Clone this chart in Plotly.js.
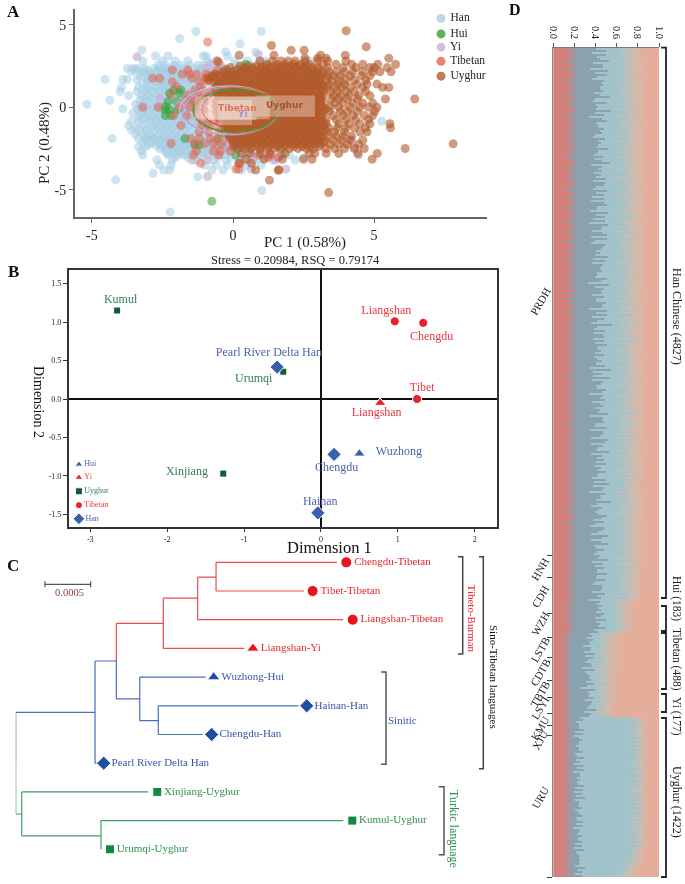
<!DOCTYPE html>
<html>
<head>
<meta charset="utf-8">
<script src="https://cdn.plot.ly/plotly-3.0.1.min.js"></script>
<style>body{margin:0;background:#fff}#plotArea{width:685px;height:884px;filter:blur(.45px)}</style>
</head>
<body>
<div id="plotArea"></div>
<script>
var serif = "Liberation Serif";

// Panel A: PCA points, each row is [PC2, [PC1 values]]
var hanRows = [
  [4.59,[-1.32,1.0]], [4.16,[-1.89]], [3.84,[.25]], [3.47,[-3.23]], [3.35,[-.26,.8]], [3.1,[-2.75,-2.3,-1.05,-.95,-.2]],
  [2.8,[-3.2,-2.5,-2.05,-1.6,-.9,-.6,.05,.5,.95,1.15,2.7]],
  [2.55,[-2.65,-2.4,-2.1,-1.85,-1.55,-1.25,-1.05,-.8,-.45,.1,.35,.65]],
  [2.35,[-3.75,-3.55,-3.4,-3.15,-2.8,-2.6,-2.35,-2.15,-1.9,-1.7,-1.35,-1.1,-.85,-.55,-.3]],
  [2.15,[-3.6,-3.25,-3.0,-2.75,-2.5,-2.3,-2.05,-1.8,-1.55,-1.25,-.95,-.7]],
  [1.9,[-3.3,-3.05,-2.8,-2.55,-2.3,-2.1,-1.85,-1.6,-1.3,-1.05,-.75]],
  [1.68,[-4.54,-3.9,-3.75,-3.4,-3.0,-2.7,-2.5,-2.25,-2.0,-1.75,-1.5,-1.15,-.9]],
  [1.45,[-3.2,-2.9,-2.6,-2.4,-2.15,-1.9,-1.7,-1.45,-1.2]],
  [1.2,[-3.95,-3.35,-3.05,-2.75,-2.5,-2.3,-2.05,-1.8,-1.55,-1.3]],
  [.95,[-4.0,-3.4,-3.1,-2.85,-2.6,-2.35,-2.1,-1.85,-1.6]],
  [.7,[-3.7,-3.25,-3.0,-2.7,-2.45,-2.2,-1.95,-1.7,-1.45]],
  [.42,[-4.36,-3.3,-3.05,-2.8,-2.55,-2.3,-2.05,-1.8,-1.5]],
  [.18,[-5.18,-3.45,-3.2,-2.9,-2.65,-2.4,-2.15,-1.9,-1.65,-1.4]],
  [-.1,[-3.9,-3.4,-3.15,-2.85,-2.6,-2.35,-2.1,-1.85,-1.55]],
  [-.35,[-3.55,-3.3,-3.05,-2.75,-2.5,-2.25,-2.0,-1.75,-1.5]],
  [-.6,[-3.35,-3.1,-2.85,-2.6,-2.35,-2.1,-1.85,-1.6,-1.35]],
  [-.85,[-3.6,-3.35,-2.95,-2.7,-2.45,-2.2,-1.95,-1.7,-1.45,5.27]],
  [-1.1,[-3.7,-3.2,-2.8,-2.55,-2.3,-2.05,-1.8,-1.55,-1.25]],
  [-1.4,[-3.6,-3.35,-3.05,-2.75,-2.5,-2.25,-2.0,-1.7,-1.45,-1.15]],
  [-1.65,[-3.45,-3.2,-2.95,-2.6,-2.35,-2.1,-1.85,-1.6,-1.3,-1.0]],
  [-1.9,[-4.28,-3.35,-3.05,-2.8,-2.5,-2.25,-2.0,-1.75,-1.45,-1.2,-.9]],
  [-2.15,[-3.2,-2.9,-2.65,-2.4,-2.15,-1.9,-1.6,-1.35,-1.05,-.75,-.45]],
  [-2.4,[-3.35,-3.1,-2.5,-2.3,-2.05,-1.8,-1.5,-1.25,-.95,-.65,-.35,-.1]],
  [-2.65,[-3.25,-2.4,-2.15,-1.9,-1.65,-1.4,-1.1,-.85,-.5,-.2,.6,1.7]],
  [-2.9,[-3.2,-2.3,-2.0,-1.75,-1.5,-1.2,-.9,-.6,-.3,.1,1.3,2.0]],
  [-3.2,[-2.7,-2.15,-1.3,-.7,-.25,.2,.8,1.4,2.2]],
  [-3.5,[-2.6,-2.2,-1.0,-.6,-.2,.5,1.0]],
  [-3.8,[-2.45,-2.25,-.75,-.35,.3]],
  [-4.0,[-2.83]], [-4.22,[-1.25]], [-4.4,[-4.16]], [-5.05,[1.02]], [-6.34,[-2.23]],
  // denser fill between the rows above
  [2.25,[-3.45,-3.05,-2.65,-2.4,-2.2,-1.95,-1.6,-1.2,-.9,-.6,-.35,-.1,.2,.6]],
  [2.0,[-3.15,-2.9,-2.65,-2.4,-2.2,-1.95,-1.7,-1.45,-1.15,-.9,-.6]],
  [1.55,[-3.05,-2.75,-2.5,-2.3,-2.05,-1.8,-1.55,-1.3,-1.05,-.75]],
  [1.05,[-3.2,-2.95,-2.65,-2.45,-2.2,-1.95,-1.7,-1.45,-1.15]],
  [.55,[-3.15,-2.9,-2.6,-2.4,-2.15,-1.9,-1.65,-1.35,-1.1]],
  [.05,[-3.3,-3.05,-2.75,-2.5,-2.25,-2.0,-1.75,-1.5,-1.25]],
  [-.22,[-3.25,-3.0,-2.7,-2.45,-2.2,-1.95,-1.7,-1.4,-1.15]],
  [-.72,[-3.2,-2.95,-2.75,-2.5,-2.25,-2.0,-1.75,-1.5,-1.25]],
  [-1.25,[-3.45,-3.1,-2.9,-2.65,-2.4,-2.15,-1.9,-1.65,-1.35,-1.05]],
  [-1.78,[-3.1,-2.85,-2.7,-2.45,-2.2,-1.95,-1.7,-1.4,-1.1,-.8,-.55]],
  [-2.02,[-3.1,-2.75,-2.55,-2.3,-2.1,-1.8,-1.55,-1.3,-1.0,-.7,-.4,-.15]],
  [-2.28,[-3.0,-2.75,-2.55,-2.2,-1.95,-1.7,-1.45,-1.15,-.85,-.55,-.25,0]],
  [-2.52,[-2.6,-2.35,-2.1,-1.85,-1.6,-1.35,-1.05,-.8,-.55,-.25,0,.2]],
  [-2.78,[-2.35,-2.1,-1.85,-1.55,-1.3,-1.0,-.7,-.45,-.1,.25,.5,1.0]],
  [-3.05,[-2.05,-1.6,-1.05,-.55,-.1,.4,.65,1.1,1.6,2.5]]
];
var huiRows = [
  [2.6,[.45]], [1.9,[-.2,-.05]], [1.05,[-2.1,-1.85]], [.85,[-1.9,-2.25]], [.35,[-2.3,-2.0,-1.4]], [.05,[-1.35,-2.4]],
  [-.15,[-2.4,-2.25,-1.95]], [-.5,[-2.4,-2.2]], [-1.0,[-.9]], [-1.9,[-1.7,-.5]], [-2.3,[-1.2,-1.35,-.5,-.2]], [-2.9,[.1,1.7]], [-5.7,[-.75]]
];
var yiRows = [
  [3.05,[-3.4]], [3.2,[.9]], [2.6,[-.8]], [2.35,[-.95]], [1.8,[-1.1,-.8]], [.55,[-2.6,-.9]], [.1,[-1.9,-1.6]], [-.6,[-1.55,-1.7]],
  [-1.4,[-1.0,-.4]], [-1.95,[-.2,-.05,.1,4.2]], [-2.2,[-.35,-.1,.05,.25]], [-2.45,[-.55,-.15,4.3]], [-2.9,[.65,1.0,1.7,4.45]],
  [-3.2,[-1.45,-.9,.7,1.5]], [-3.75,[1.87,.65]], [-4.2,[-.9]],
  [.9,[-1.2,-.8,-.45]], [.4,[-1.3,-.95,-.6,-.2]], [-.1,[-1.35,-1.0,-.65,-.3]], [-.9,[-1.25,-.9,-.55,-.2]]
];
var tibetanRows = [
  [3.95,[-.9]], [2.7,[-.5]], [2.25,[-2.15,-1.6,-.55,.3]], [2.0,[-1.8,-1.55,-1.3,-.95,-.6]], [1.75,[-2.85,-2.6,-1.45,-1.0]],
  [1.55,[-2.15,-1.2,-.9]], [1.25,[-2.0,-1.15,-.6]], [.75,[-2.2,-1.6,-1.3]], [.45,[-1.7,-1.45]], [0,[-3.2,-2.65,-1.9,-1.55]],
  [-.5,[-2.1,-1.65]], [-1.1,[-1.85,-1.1,-.85,-.6]], [-1.9,[-1.5,-1.2,-.8,-.55]], [-2.2,[-2.2,-1.35,-1.0,-.7,-.4]],
  [-2.65,[-1.3,-.7,-.45,-.1]], [-2.9,[-1.4,-.5,.9,1.35]], [-3.05,[1.25,1.6]], [-3.4,[-1.15,.25]], [-3.75,[.1,.2]],
  [1.05,[-1.35,-1.05,-.75,-.45]], [.65,[-1.2,-.9,-.6,-.3]], [.25,[-1.3,-1.05,-.75,-.4]], [-.25,[-1.25,-.95,-.65,-.35]],
  [-.7,[-1.1,-.8,-.5]], [-1.5,[-1.2,-.85,-.5,-.2]]
];
var uyghurRows = [
  [4.63,[4.01]], [3.74,[1.36]], [3.66,[4.72]], [3.45,[2.52,2.06]], [3.15,[.22,1.45,3.98,3.1]], [2.97,[5.52,3.3,3.0,2.55]],
  [2.8,[-.55,.95,1.4,1.7,1.95,2.2,2.55,3.0,3.35,4.0]], [2.6,[5.13,5.76,1.2,1.55,1.85,2.15,2.4,2.7,3.2,3.65,4.2,4.6]],
  [2.4,[5.46,-.1,.4,.7,1.0,1.3,1.6,1.9,2.2,2.5,2.8,3.0,3.35,3.9,4.35,4.85,5.0]],
  [2.15,[5.6,-.35,0,.3,.55,.85,1.1,1.35,1.6,1.85,2.1,2.4,2.65,2.9,3.15,3.4,3.65,3.95,4.25,4.6,4.95,5.2]],
  [1.9,[-.75,-.5,-.2,.05,.3,.6,.85,1.1,1.35,1.6,1.85,2.1,2.35,2.6,2.85,3.05,3.35,3.55,3.8,4.15,4.55,4.85]],
  [1.65,[-.85,-.55,-.25,0,.25,.5,.75,1.0,1.25,1.5,1.75,2.0,2.25,2.5,2.75,3.0,3.3,3.5,3.75,4.0,4.3,4.7]],
  [1.4,[-.5,-.3,-.05,.2,.45,.7,.95,1.2,1.45,1.7,1.95,2.2,2.45,2.7,2.95,3.15,3.4,3.7,3.95,4.4,4.75,5.1]],
  [1.2,[-.4,-.15,.1,.35,.6,.85,1.1,1.35,1.6,1.85,2.1,2.35,2.6,2.85,3.1,3.35,3.6,3.85,4.15,4.6,5.3,5.52]],
  [.95,[-.3,-.05,.2,.45,.7,.95,1.2,1.45,1.7,1.95,2.2,2.45,2.7,2.95,3.2,3.45,3.7,4.0,4.3,4.7]],
  [.7,[-.25,0,.25,.5,.75,1.0,1.25,1.5,1.75,2.0,2.25,2.5,2.75,3.0,3.2,3.55,3.8,4.1,4.45,4.85]],
  [.5,[-.4,-.1,.15,.4,.65,.9,1.15,1.4,1.65,1.9,2.15,2.4,2.65,2.9,3.1,3.5,3.75,4.05,4.4,5.4,6.44]],
  [.25,[-.3,0,.25,.5,.75,1.0,1.25,1.5,1.75,2.0,2.25,2.5,2.75,3.0,3.25,3.6,3.9,4.25,4.6,4.95]],
  [0,[-.35,-.1,.15,.4,.65,.9,1.15,1.4,1.65,1.9,2.15,2.4,2.65,2.9,3.15,3.45,3.75,4.15,4.5,4.8,5.1]],
  [-.25,[-.3,-.05,.2,.45,.7,.95,1.2,1.45,1.7,1.95,2.2,2.45,2.7,2.95,3.2,3.4,3.8,4.05,4.4,5.02]],
  [-.5,[-.4,-.1,.15,.4,.65,.9,1.15,1.4,1.65,1.9,2.15,2.4,2.65,2.9,3.15,3.55,3.9,4.25,4.65,4.95]],
  [-.75,[-.25,0,.25,.5,.75,1.0,1.25,1.5,1.75,2.0,2.25,2.5,2.75,3.0,3.3,3.65,4.0,4.35,4.8]],
  [-1.0,[-.2,.05,.3,.55,.8,1.05,1.3,1.55,1.8,2.05,2.3,2.55,2.8,3.05,3.3,3.75,4.1,4.5,4.85,5.56]],
  [-1.25,[-.15,.1,.35,.6,.85,1.1,1.35,1.6,1.85,2.1,2.35,2.6,2.85,3.1,3.4,3.7,4.0,4.3,4.7,5.58]],
  [-1.5,[-.1,.15,.4,.65,.9,1.15,1.4,1.65,1.9,2.15,2.4,2.65,2.9,3.15,3.35,3.6,3.95,4.5,4.75]],
  [-1.75,[-.1,.15,.4,.65,.9,1.15,1.4,1.65,1.9,2.15,2.4,2.65,2.9,3.1,3.35,3.65,3.9,4.2]],
  [-2.0,[0,.25,.5,.75,1.0,1.25,1.5,1.75,2.0,2.25,2.5,2.75,3.0,3.25,3.55,3.85,4.15,4.6]],
  [-2.25,[.1,.35,.6,.85,1.1,1.35,1.6,1.85,2.1,2.35,2.6,2.85,3.1,3.45,3.75,4.05,4.45]],
  [-2.5,[.15,.4,.65,.95,1.2,1.45,1.7,2.0,2.3,2.6,2.85,3.3,3.6,3.95,4.3,4.65,6.1]],
  [-2.8,[.3,.6,.95,1.3,1.85,2.7,2.9,3.3,3.75,4.42,5.11]], [-3.15,[.45,1.1,1.75,2.5,2.8,4.93]], [-3.4,[.65,.2]],
  [-3.8,[.8,1.63,1.6]], [-4.42,[1.29]], [-5.17,[3.39]], [-2.22,[7.8]],
  // the solid core between the rows above
  [2.5,[.25,.55,.85,1.15,1.45,1.75,2.05,2.35,2.6]],
  [2.28,[-.25,.15,.45,.7,.95,1.2,1.5,1.75,2.0,2.25,2.55,2.8,3.05]],
  [2.02,[-.65,-.3,-.1,.2,.45,.72,.98,1.22,1.48,1.72,1.98,2.22,2.48,2.72,2.98,3.2]],
  [1.78,[-.9,-.68,-.4,-.12,.12,.38,.62,.88,1.12,1.38,1.62,1.88,2.12,2.38,2.62,2.88,3.12]],
  [1.52,[-.65,-.4,-.15,.08,.32,.58,.82,1.08,1.32,1.58,1.82,2.08,2.32,2.58,2.82,3.08]],
  [1.3,[-.55,-.28,-.02,.22,.48,.72,.98,1.22,1.48,1.72,1.98,2.22,2.48,2.72,2.98,3.22]],
  [1.08,[-.62,-.35,-.1,.15,.4,.65,.9,1.15,1.4,1.65,1.9,2.15,2.4,2.65,2.9,3.15]],
  [.82,[-.55,-.18,.08,.32,.58,.82,1.08,1.32,1.58,1.82,2.08,2.32,2.58,2.82,3.08]],
  [.6,[-.5,-.12,.12,.38,.62,.88,1.12,1.38,1.62,1.88,2.12,2.38,2.62,2.88,3.12]],
  [.38,[-.58,-.2,.1,.35,.6,.85,1.1,1.35,1.6,1.85,2.1,2.35,2.6,2.85,3.1]],
  [.12,[-.6,-.22,.1,.38,.62,.88,1.12,1.38,1.62,1.88,2.12,2.38,2.62,2.88,3.12]],
  [-.12,[-.55,-.22,.02,.28,.52,.78,1.02,1.28,1.52,1.78,2.02,2.28,2.52,2.78,3.02,3.28]],
  [-.38,[-.55,-.18,.08,.32,.58,.82,1.08,1.32,1.58,1.82,2.08,2.32,2.58,2.82,3.08]],
  [-.62,[-.5,-.12,.12,.38,.62,.88,1.12,1.38,1.62,1.88,2.12,2.38,2.62,2.88,3.12]],
  [-.88,[-.38,-.08,.18,.42,.68,.92,1.18,1.42,1.68,1.92,2.18,2.42,2.68,2.92,3.18]],
  [-1.12,[-.32,-.05,.2,.48,.72,.98,1.22,1.48,1.72,1.98,2.22,2.48,2.72,2.98,3.22]],
  [-1.38,[-.28,.02,.28,.52,.78,1.02,1.28,1.52,1.78,2.02,2.28,2.52,2.78,3.02,3.25]],
  [-1.62,[-.25,.02,.28,.52,.78,1.02,1.28,1.52,1.78,2.02,2.28,2.52,2.78,3.02]],
  [-1.88,[-.12,.12,.38,.62,.88,1.12,1.38,1.62,1.88,2.12,2.38,2.62,2.88,3.12]],
  [-2.12,[0,.22,.48,.72,.98,1.22,1.48,1.72,1.98,2.22,2.48,2.72,2.98,3.22]],
  [-2.38,[.02,.28,.52,.78,1.02,1.28,1.58,1.85,2.15,2.45,2.72,3.05]]
];
var pcaLegend = ["Han", "Hui", "Yi", "Tibetan", "Uyghur"];
var pcaColors = ["#a6cee3", "#33a02c", "#cab2d6", "#e0654f", "#b15928"];
var pcaOpacity = [.55, .55, .7, .55, .6];

// Panel B: MDS
var mdsNames = ["Kumul", "Urumqi", "Xinjiang", "Liangshan", "Chengdu", "Tibet", "Liangshan", "Wuzhong", "Pearl River Delta Han", "Chengdu", "Hainan"];
var mdsX = [-2.65, -.49, -1.27, .96, 1.33, 1.25, .77, .5, -.57, .17, -.04];
var mdsY = [1.15, .355, -.97, 1.01, .99, 0, -.05, -.71, .415, -.72, -1.48];
var mdsLabelX = [-2.605, -.875, -1.743, .85, 1.439, 1.317, .724, 1.014, -.676, .204, -.009];
var mdsLabelY = [1.293, .256, -.949, 1.144, .81, .147, -.178, -.689, .598, -.901, -1.34];
var mdsSymbols = ["square", "square", "square", "circle", "circle", "circle", "triangle-up", "triangle-up", "diamond", "diamond", "diamond"];
var mdsSizes = [7, 7, 7, 9, 9, 9, 10, 10, 11, 11, 11];
var mdsColors = ["#0f5c33", "#0f5c33", "#0f5c33", "#e8202a", "#e8202a", "#e8202a", "#e8202a", "#3a5fad", "#3a5fad", "#3a5fad", "#3a5fad"];
var mdsTextColors = ["#2f7d4f", "#2f7d4f", "#2f7d4f", "#e8383d", "#e8383d", "#e8383d", "#e8383d", "#4a63b0", "#4a63b0", "#4a63b0", "#4a63b0"];
var mdsLegend = ["Hui", "Yi", "Uyghur", "Tibetan", "Han"];
var mdsLegendY = [-.85, -1.02, -1.2, -1.38, -1.557];
var mdsLegendSymbols = ["triangle-up", "triangle-up", "square", "circle", "diamond"];
var mdsLegendColors = ["#3a5fad", "#e8202a", "#0f5c33", "#e8202a", "#3a5fad"];
var mdsLegendText = ["#4a63b0", "#e8383d", "#2f7d4f", "#e8383d", "#4a63b0"];

// Panel C: tree, x in units of 0.0001, y in leaf rows
var leafNames = ["Chengdu-Tibetan", "Tibet-Tibetan", "Liangshan-Tibetan", "Liangshan-Yi", "Wuzhong-Hui", "Hainan-Han", "Chengdu-Han", "Pearl River Delta Han", "Xinjiang-Uyghur", "Kumul-Uyghur", "Urumqi-Uyghur"];
var leafX = [36.17, 32.49, 36.87, 25.96, 21.66, 31.84, 21.44, 9.63, 15.49, 36.83, 10.32];
var leafSymbols = ["circle", "circle", "circle", "triangle-up", "triangle-up", "diamond", "diamond", "diamond", "square", "square", "square"];
var leafSizes = [11, 11, 11, 11, 11, 11, 11, 11, 9, 9, 9];
var leafColors = ["#e8141c", "#e8141c", "#e8141c", "#e8141c", "#1f4ea3", "#1f4ea3", "#1f4ea3", "#1f4ea3", "#12873f", "#12873f", "#12873f"];
var leafTextColors = ["#e8262c", "#e8262c", "#e8262c", "#e8262c", "#3557a8", "#3557a8", "#3557a8", "#3557a8", "#2c8f4f", "#2c8f4f", "#2c8f4f"];
var redBranches = [[21.92,35.15,0], [21.92,31.54,1], [19.91,21.92,.52], [19.91,35.81,2], [16.15,19.91,1.25], [16.15,25.01,3], [11.01,16.15,2.13]];
var redStems = [[21.92,0,1], [19.91,.52,2], [16.15,1.25,3], [11.01,2.13,3.44]];
var blueBranches = [[0,8.68,5.23], [8.68,11.01,3.44], [11.01,13.57,4.76], [13.57,20.79,4], [13.57,15.6,5.52], [15.6,30.92,5], [15.6,20.46,6], [8.68,9,7]];
var blueStems = [[0,5.23,6.98], [8.68,3.44,7], [11.01,3.44,4.76], [13.57,4,5.52], [15.6,5,6]];
var greenBranches = [[0,.66,8.77], [.66,14.51,8], [.66,9.33,9.53], [9.33,35.84,9]];
var greenStems = [[0,6.98,8.77], [.66,8,9.53], [9.33,9,10]];

// Panel D: ancestry rows in percent [red, dark, teal, pale], the salmon part is the rest
var hanAncestry = [
  [11,22,24,18],[14,28,16,16],[9,20,28,20],[12,30,18,14],[16,18,24,22],[10,26,22,16],[13,32,14,18],[8,22,30,16],[15,24,18,20],[11,28,20,14],
  [9,18,32,18],[14,30,16,16],[12,20,26,22],[17,26,14,18],[10,24,24,14],[13,16,30,20],[8,32,20,16],[15,22,22,18],[11,28,18,22],[12,24,26,12],
  [16,20,20,20],[9,30,22,16],[13,18,28,18],[10,26,18,24],[14,32,16,12],[8,24,26,20],[12,18,30,16],[15,28,14,20],[11,22,28,14],[9,26,24,18],
  [13,20,18,24],[17,30,18,12],[10,22,30,14],[12,28,16,22],[8,18,26,24],[14,24,26,14],[11,32,14,18],[15,18,22,22],[9,26,28,12],[13,22,20,20],
  [10,30,22,14],[16,20,24,16],[12,26,18,22],[8,24,32,12],[14,16,26,20],[11,30,20,16],[13,22,16,24],[9,28,26,14],[17,18,24,18],[10,24,20,22],
  [12,32,16,14],[15,20,26,16],[8,26,22,20],[13,18,30,14],[11,28,14,24],[9,22,28,18],[14,24,20,16],[16,30,14,18],[10,18,32,16],[12,26,22,16],
  [13,22,18,22],[8,30,24,14],[15,16,26,20],[11,26,26,12],[9,24,16,26],[14,28,22,14],[12,18,28,18],[17,24,16,20],[10,30,18,18],[13,20,30,12],
  [8,22,24,22],[11,32,20,12],[15,18,20,24],[12,28,24,14],[9,20,26,20],[14,26,18,18],[10,18,34,14],[16,24,20,16],[13,30,14,20],[8,26,28,14],
  [12,22,22,20],[11,16,30,18],[14,30,20,12],[9,24,18,26],[15,26,24,12],[10,20,28,16],[13,28,16,20],[8,18,32,16],[12,32,18,14],[16,22,16,24],
  [11,26,26,14],[9,20,22,24],[14,24,28,12],[13,30,14,22],[10,18,30,16],[15,28,20,14],[8,24,24,20],[12,16,28,20],[11,30,22,12],[17,22,16,22],
  [9,28,24,14],[13,20,24,20],[10,26,18,24],[14,18,32,12],[12,32,14,18],[8,22,28,18],[15,26,22,14],[11,18,24,24],[9,30,24,12],[13,24,16,24],
  [16,20,28,12],[10,28,20,18],[12,22,30,14],[8,26,16,26],[14,18,26,20],[11,32,18,14],[13,24,24,16],[9,16,32,18],[15,30,14,18],[10,22,26,18],
  [12,28,22,12],[17,20,18,22],[8,30,24,14],[11,18,30,16],[14,26,16,22],[9,24,28,14],[13,20,20,24],[10,32,18,14],[16,22,26,12],[12,26,16,22],
  [8,18,30,20],[15,28,22,12],[11,22,18,24],[13,30,24,10],[9,20,28,20],[14,26,14,22],[10,24,30,12],[12,16,26,22],[16,32,16,14],[8,26,22,20],
  [11,20,26,18],[13,28,18,18],[9,22,32,12],[15,24,14,24],[10,30,24,12],[12,18,22,24],[14,26,28,10],[8,24,18,26],[11,32,20,14],[16,18,24,18],
  [13,22,26,14],[9,28,16,24],[12,20,30,14],[10,30,22,14],[15,16,24,22],[8,26,28,12],[14,24,16,22],[11,22,28,14],[13,28,20,16],[9,18,26,22],
  [17,30,14,16],[10,20,32,14],[12,26,18,20],[8,22,24,22],[14,32,18,12],[11,18,30,16],[15,24,20,16],[9,28,26,12],[13,20,16,26],[10,24,28,14],
  [12,30,20,14],[16,22,22,16],[8,18,32,18],[11,28,14,24],[14,22,28,12],[9,32,18,16],[13,16,26,22],[10,26,24,16],[15,24,18,18],[12,20,30,14],
  [8,28,22,18],[11,24,16,26],[14,30,24,10],[9,18,28,20],[13,26,20,16],[16,22,18,20],[10,30,26,10],[12,20,22,22],[8,24,32,12],[15,28,14,20],
  [11,16,28,20],[13,26,22,14],[9,30,16,20],[14,22,30,10],[10,18,24,24],[12,32,18,14],[17,24,20,14],[8,20,28,20],[11,28,18,18],[13,22,26,14],
  [9,24,20,24],[15,30,18,12],[10,18,32,14],[12,26,14,24],[14,20,28,14],[8,32,20,16],[11,22,26,16],[16,26,16,18],[13,18,30,14],[9,28,22,18],
  [10,24,18,26],[12,30,24,10],[15,20,22,20],[8,26,30,12],[11,18,20,26],[14,28,20,14],[9,22,28,16],[13,32,14,16],[10,20,30,14],[16,24,18,18],
  [12,26,24,12],[8,18,26,24],[11,30,22,12],[14,22,16,24],[9,28,26,14],[13,20,28,14],[15,32,14,14],[10,24,22,20],[12,16,30,18],[8,30,18,20],
  [11,24,28,12],[14,18,24,20],[9,26,16,26],[13,30,22,10],[16,22,20,18],[10,20,30,14],[12,28,18,18],[8,24,26,18],[11,16,32,16],[15,26,14,22],
  [9,30,22,14],[13,22,24,16],[10,18,28,20],[12,32,16,16],[14,24,22,14],[8,20,30,16],[11,26,18,22],[16,28,20,12],[13,18,24,20],[9,24,28,14],
  [10,30,18,18],[12,22,26,14],[15,16,28,18],[8,28,22,16],[11,24,16,26],[14,30,22,10],[9,20,30,14],[13,26,14,22],[10,22,24,20],[12,28,26,10],
  [16,18,20,22],[8,26,26,14],[11,32,16,16],[14,20,26,14],[9,24,22,20],[13,28,20,12],[10,22,24,18],[12,18,30,16],[8,30,18,18],[14,24,24,12],
  [11,26,20,20],[9,20,28,16],[13,28,22,12],[10,24,16,24],[15,22,24,14],[8,18,30,18]
];
var huiAncestry = [
  [10,26,14,16],[12,22,18,14],[8,30,12,18],[11,24,16,12],[9,28,18,14],[13,20,20,12],[8,32,10,16],[11,26,16,18],
  [10,22,20,10],[12,30,12,14],[9,24,18,16],[8,28,14,14],[13,22,22,10],[10,32,10,18],[11,20,18,16],[9,26,16,12]
];
var tibetanAncestry = [
  [8,18,12,16],[7,22,8,20],[9,14,14,14],[6,24,6,18],[10,16,10,22],[7,20,14,10],[8,12,16,16],[6,22,10,12],[9,18,8,20],[7,14,12,16],
  [8,24,6,14],[6,16,14,20],[10,20,10,10],[7,18,8,22],[8,14,16,12],[6,22,12,16],[9,20,6,18],[7,12,14,14],[8,24,10,10],[6,16,8,24],
  [10,14,12,16],[7,20,10,14],[8,18,14,10],[6,22,6,20],[9,14,10,18],[7,24,12,10],[8,16,8,20],[6,12,16,14],[10,22,8,12],[7,18,10,16]
];
var yiAncestry = [
  [7,20,8,16],[9,16,12,10],[6,24,6,18],[8,14,10,14],[7,22,8,12],[10,18,6,16],[6,20,12,12],[8,16,8,18],[9,24,6,10],[7,14,10,16],[6,22,8,14],[8,18,12,10]
];
var uyghurAncestry = [
  [10,8,46,14],[8,12,50,10],[9,5,56,8],[7,10,48,16],[11,6,54,10],[8,9,58,6],[9,12,44,14],[7,6,52,12],[10,10,50,8],[8,4,58,10],
  [9,8,54,12],[7,12,46,12],[11,6,56,8],[8,9,48,16],[9,5,60,6],[7,10,52,10],[10,7,54,8],[8,12,48,14],[9,4,56,12],[7,8,58,6],
  [10,11,50,8],[8,6,54,14],[9,9,48,12],[7,5,60,8],[11,10,46,12],[8,7,56,10],[9,12,50,8],[7,4,56,14],[10,8,52,10],[8,10,58,6],
  [9,6,48,16],[7,11,54,8],[10,5,56,10],[8,8,50,14],[9,12,52,6],[7,6,58,10],[11,9,46,12],[8,4,54,14],[9,10,56,6],[7,7,50,14],
  [10,12,48,10],[8,5,60,8],[9,8,52,10],[7,10,54,12],[10,6,50,14],[8,11,56,6],[9,4,54,12],[7,9,48,14],[11,7,58,6],[8,12,50,8],
  [9,5,52,14],[7,8,60,6],[10,10,46,12],[8,6,56,10],[9,11,50,10],[7,4,54,14],[10,8,56,6],[8,9,48,14],[9,6,58,8],[7,12,52,8],
  [11,5,50,12],[8,8,54,10],[9,10,56,6],[7,6,48,16],[10,9,52,8],[8,4,58,8],[9,12,46,12],[7,7,54,10],[10,5,52,12],[8,10,50,8],
  [9,8,48,12],[7,11,44,14],[11,6,50,8],[8,9,42,14],[9,4,48,12],[10,12,40,12],[8,7,46,10],[9,10,38,14],[7,6,44,12],[10,9,40,10]
];
var ancestryColors = ["#d47f78", "#cb8582", "#ad9098", "#8aa2ae", "#a2c3c9", "#bdbfb9", "#d6b8ab", "#e4ae9b"];
var roseWidth = 4;

// pixel helpers for the decoration that is not data
function px(x) { return x / 685; }
function py(y) { return 1 - y / 884; }
function pxDomain(a, b) { return [px(a), px(b)]; }
function pyDomain(top, bottom) { return [py(bottom), py(top)]; }

var data = [];

// A: scatter
[hanRows, huiRows, yiRows, tibetanRows, uyghurRows].forEach(function(rows, i) {
  var xs = [], ys = [];
  rows.forEach(function(row) {
    row[1].forEach(function(v) { xs.push(v); ys.push(row[0]); });
  });
  data.push({x: xs, y: ys, type: "scatter", mode: "markers", showlegend: false, hoverinfo: "skip",
    marker: {size: 9, color: pcaColors[i], opacity: pcaOpacity[i]}, xaxis: "x", yaxis: "y"});
});
data.push({x: pcaLegend.map(function() { return 7.37; }), y: [5.38, 4.44, 3.64, 2.78, 1.88], type: "scatter", mode: "markers+text",
  text: pcaLegend.map(function(t) { return " " + t; }), textposition: "middle right", showlegend: false,
  textfont: {family: serif, size: 11.5, color: "#222"}, marker: {size: 9, color: pcaColors, opacity: .8}, xaxis: "x", yaxis: "y"});

// B: scatter
data.push({x: mdsX, y: mdsY, type: "scatter", mode: "markers", showlegend: false,
  marker: {symbol: mdsSymbols, size: mdsSizes, color: mdsColors, opacity: 1}, xaxis: "x2", yaxis: "y2"});
data.push({x: mdsLabelX, y: mdsLabelY, type: "scatter", mode: "text", text: mdsNames, showlegend: false,
  textfont: {family: serif, size: 12, color: mdsTextColors}, xaxis: "x2", yaxis: "y2"});
data.push({x: mdsLegend.map(function() { return -3.147; }), y: mdsLegendY, type: "scatter", mode: "markers+text", text: mdsLegend,
  textposition: "middle right", showlegend: false, textfont: {family: serif, size: 8, color: mdsLegendText},
  marker: {symbol: mdsLegendSymbols, size: [7, 7, 7, 7, 9], color: mdsLegendColors, opacity: 1}, xaxis: "x2", yaxis: "y2"});

// C: tree
function treeTrace(branches, stems, color) {
  var xs = [], ys = [];
  branches.forEach(function(b) { xs.push(b[0], b[1], null); ys.push(b[2], b[2], null); });
  stems.forEach(function(s) { xs.push(s[0], s[0], null); ys.push(s[1], s[2], null); });
  return {x: xs, y: ys, type: "scatter", mode: "lines", showlegend: false, line: {color: color, width: 1.2}, xaxis: "x3", yaxis: "y3"};
}
data.push(treeTrace(redBranches, redStems, "#ee4a50"));
data.push(treeTrace(blueBranches, blueStems, "#4a6fbc"));
data.push(treeTrace(greenBranches, greenStems, "#3fa066"));
data.push({x: [3.2, 8.2], y: [.767, .767], type: "scatter", mode: "lines", showlegend: false, line: {color: "#555", width: 1.2}, xaxis: "x3", yaxis: "y3"});
data.push({x: leafX, y: leafNames.map(function(n, i) { return i; }), type: "scatter", mode: "markers+text",
  text: leafNames, textposition: "middle right", showlegend: false, textfont: {family: serif, size: 11, color: leafTextColors},
  marker: {symbol: leafSymbols, size: leafSizes, color: leafColors, opacity: 1}, xaxis: "x3", yaxis: "y3"});

// D: stacked bars
var ancestry = hanAncestry.concat(huiAncestry, tibetanAncestry, yiAncestry, uyghurAncestry);
var rowIndex = ancestry.map(function(r, i) { return i; });
var columns = [
  ancestry.map(function(r) { return r[0]; }),
  ancestry.map(function() { return roseWidth; }),
  ancestry.map(function() { return roseWidth; }),
  ancestry.map(function(r) { return r[1]; }),
  ancestry.map(function(r) { return r[2]; }),
  ancestry.map(function(r) { return r[3] / 2; }),
  ancestry.map(function(r) { return r[3] / 2; }),
  ancestry.map(function(r) { return 100 - r[0] - r[1] - r[2] - r[3] - 2 * roseWidth; })
];
columns.forEach(function(col, i) {
  data.push({x: col, y: rowIndex, type: "bar", orientation: "h", showlegend: false, hoverinfo: "skip",
    marker: {color: ancestryColors[i], line: {width: 0}}, xaxis: "x4", yaxis: "y4"});
});

function text(t, x, y, size, color, angle, family) {
  return {text: t, x: px(x), y: py(y), xref: "paper", yref: "paper", showarrow: false, xanchor: "center", yanchor: "middle",
    textangle: angle || 0, font: {family: family || serif, size: size, color: color || "#111"}};
}
function bracket(x, capX, top, bottom, color, width) {
  return {type: "path", xref: "paper", yref: "paper", line: {color: color, width: width}, fillcolor: "rgba(0,0,0,0)",
    path: "M" + px(capX) + " " + py(top) + " L" + px(x) + " " + py(top) + " L" + px(x) + " " + py(bottom) + " L" + px(capX) + " " + py(bottom)};
}
function dataBox(x0, x1, y0, y1) {
  return {type: "rect", xref: "x", yref: "y", x0: x0, x1: x1, y0: y0, y1: y1, fillcolor: "rgba(255,255,255,.32)", line: {width: 0}};
}
function ellipse(x0, x1, y0, y1, color) {
  return {type: "circle", xref: "x", yref: "y", x0: x0, x1: x1, y0: y0, y1: y1, fillcolor: "rgba(0,0,0,0)", line: {color: color, width: 1.2}};
}

var shapes = [
  ellipse(-1.89, 1.6, 1.29, -1.62, "#a6cee3"),
  ellipse(-1.77, 1.6, 1.21, -1.67, "#b7a3d6"),
  ellipse(-1.37, 1.6, 1.21, -1.58, "#e0654f"),
  ellipse(-1.1, 1.6, 1.05, -1.3, "#b15928"),
  ellipse(-1.42, 1.6, 1.03, -1.5, "#33a02c"),
  dataBox(-1.36, 1.3, .65, -.73),
  dataBox(-.89, .83, .65, -.77),
  dataBox(.83, 2.9, .71, -.57),
  dataBox(-.53, .67, .44, -1.07),
  // scale bar caps
  {type: "line", xref: "x3", yref: "y3", x0: 3.2, x1: 3.2, y0: .66, y1: .87, line: {color: "#555", width: 1.2}},
  {type: "line", xref: "x3", yref: "y3", x0: 8.2, x1: 8.2, y0: .66, y1: .87, line: {color: "#555", width: 1.2}},
  // panel C brackets
  bracket(462.7, 458, 556.7, 654, "#444", 1.5),
  bracket(483.3, 479, 556.7, 768.7, "#444", 1.5),
  bracket(386, 381, 672, 764.3, "#555", 1.5),
  bracket(444, 438.7, 786.7, 854.7, "#555", 1.5),
  // panel D brackets
  bracket(666, 661, 47.7, 598, "#222", 1.8),
  bracket(666, 661, 606, 631, "#222", 1.8),
  bracket(666, 661, 633, 689, "#222", 1.8),
  bracket(666, 661, 694, 712, "#222", 1.8),
  bracket(666, 661, 718, 877, "#222", 1.8)
];

var annotations = [
  text("<b>A</b>", 13, 12, 17), text("<b>B</b>", 13, 271, 17), text("<b>C</b>", 13, 565, 17), text("<b>D</b>", 515, 10, 16),
  text("PC 1 (0.58%)", 305, 242, 15, "#222"), text("PC 2 (0.48%)", 45, 143, 15, "#222", -90),
  text("<b>Tibetan</b>", 237, 108, 9, "#e0705f", 0, "DejaVu Sans"),
  text("<b>Uyghur</b>", 284, 105, 9, "#a5532c", 0, "DejaVu Sans"),
  text("<b>Yi</b>", 242, 114, 9, "#a594c8", 0, "DejaVu Sans"),
  text("Stress = 0.20984, RSQ = 0.79174", 295.7, 260, 12.5, "#222"),
  text("Dimension 1", 329, 547, 16.5, "#111"), text("Dimension 2", 38, 402, 14, "#111", 90),
  text("0.0005", 69, 592.7, 10.5, "#8a3a3a"),
  text("Tibeto-Burman", 471.7, 618.3, 11, "#e8262c", 90),
  text("Sino-Tibetan languages", 494, 677, 11, "#111", 90),
  text("Sinitic", 402.3, 720, 11, "#3557a8"),
  text("Turkic language", 453.3, 829.3, 12, "#2c8f4f", 90),
  text("Han Chinese (4827)", 677, 316, 12, "#222", 90),
  text("Hui (183)", 677, 598, 11.5, "#222", 90),
  text("Tibetan (488)", 677, 659, 11.5, "#222", 90),
  text("Yi (177)", 677, 716, 11.5, "#222", 90),
  text("Uyghur (1422)", 677, 802, 12, "#222", 90)
];
var populationCodes = ["PRDH", "HNH", "CDH", "WZH", "LSTB", "CDTB", "TBTB", "LSYI", "KMU", "XJU", "URU"];
var codeY = [302, 569, 597, 624, 650, 673, 694, 708, 728, 740, 798];
populationCodes.forEach(function(code, i) {
  annotations.push(text(code, 540, codeY[i], 11, "#222", -60));
});

var layout = {
  width: 685, height: 884, margin: {l: 0, r: 0, t: 0, b: 0}, paper_bgcolor: "#fff", plot_bgcolor: "rgba(0,0,0,0)",
  font: {family: serif, color: "#222"}, barmode: "stack", bargap: 0, showlegend: false, shapes: shapes, annotations: annotations,
  xaxis: {domain: pxDomain(75, 487), range: [-5.6, 9], anchor: "y", showgrid: false, zeroline: false, showline: true, linecolor: "#666", linewidth: 2,
    tickmode: "array", tickvals: [-5, 0, 5], ticktext: ["-5", "0", "5"], ticks: "outside", ticklen: 4, tickcolor: "#666", tickfont: {size: 14}},
  yaxis: {domain: pyDomain(9, 217), range: [-6.65, 5.95], anchor: "x", showgrid: false, zeroline: false, showline: true, linecolor: "#666", linewidth: 2,
    tickmode: "array", tickvals: [-5, 0, 5], ticktext: ["-5", "0", "5"], ticks: "outside", ticklen: 4, tickcolor: "#666", tickfont: {size: 14}},
  xaxis2: {domain: pxDomain(68.7, 496.7), range: [-3.28, 2.285], anchor: "y2", showgrid: false, showline: true, mirror: true, linecolor: "#333", linewidth: 1.5,
    zeroline: true, zerolinecolor: "#111", zerolinewidth: 2, tickmode: "array", tickvals: [-3, -2, -1, 0, 1, 2], ticktext: ["-3", "-2", "-1", "0", "1", "2"],
    ticks: "outside", ticklen: 4, tickcolor: "#333", tickfont: {size: 8}},
  yaxis2: {domain: pyDomain(270, 526.7), range: [-1.66, 1.677], anchor: "x2", showgrid: false, showline: true, mirror: true, linecolor: "#333", linewidth: 1.5,
    zeroline: true, zerolinecolor: "#111", zerolinewidth: 2, tickmode: "array", tickvals: [-1.5, -1, -.5, 0, .5, 1, 1.5], ticktext: ["-1.5", "-1.0", "-0.5", "0.0", "0.5", "1.0", "1.5"],
    ticks: "outside", ticklen: 4, tickcolor: "#333", tickfont: {size: 8}},
  xaxis3: {domain: pxDomain(15.7, 472.7), range: [0, 50], anchor: "y3", visible: false},
  yaxis3: {domain: pyDomain(548, 878), range: [11, -.498], anchor: "x3", visible: false},
  xaxis4: {domain: pxDomain(553.3, 659), range: [0, 100], anchor: "y4", side: "top", showgrid: false, zeroline: false, showline: true, linecolor: "#777",
    tickmode: "array", tickvals: [0, 20, 40, 60, 80, 100], ticktext: ["0.0", "0.2", "0.4", "0.6", "0.8", "1.0"], tickangle: 90, ticks: "outside", ticklen: 4, tickcolor: "#555", tickfont: {size: 10.5}},
  yaxis4: {domain: pyDomain(47.7, 877), range: [ancestry.length - .5, -.5], anchor: "x4", showgrid: false, zeroline: false, showline: true, linecolor: "#888",
    tickmode: "array", tickvals: [253.2, 264, 282, 294, 304, 315.2, 324, 332, 338, 343, ancestry.length - .5], showticklabels: false, ticks: "outside", ticklen: 5, tickcolor: "#444"}
};

Plotly.newPlot("plotArea", data, layout, {displayModeBar: false});
</script>
</body>
</html>
